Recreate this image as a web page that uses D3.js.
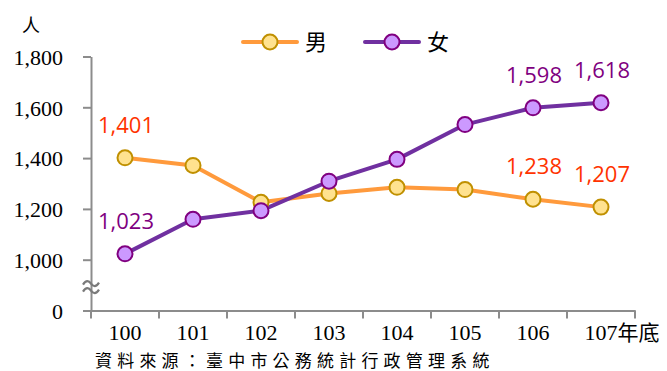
<!DOCTYPE html>
<html><head><meta charset="utf-8">
<script src="https://cdn.jsdelivr.net/npm/d3@7"></script>
<style>
html,body{margin:0;padding:0;background:#fff;}
svg{display:block;}
</style></head>
<body>
<svg id="chart" width="667" height="371"></svg>
<script>
const years = ["100","101","102","103","104","105","106","107"];
const lastSuffix = "年底";
const male = [1401, 1371, 1226, 1261, 1285, 1276, 1238, 1207];
const female = [1023, 1159, 1193, 1309, 1395, 1532, 1598, 1618];
const maleLabelIdx = [0, 6, 7];
const femaleLabelIdx = [0, 6, 7];
const yTicks = [800, 1000, 1200, 1400, 1600, 1800];
const seriesNames = ["男", "女"];
const unitLabel = "人";
const sourceText = "資料來源：臺中市公務統計行政管理系統";

const svg = d3.select("#chart");
const x = d3.scaleBand().domain(years).range([91, 635]).padding(0);
const y = d3.scaleLinear().domain([800, 1800]).range([310.5, 56.5]);
const axisColor = "#8c8c8c";
const serif = "'Liberation Serif','DejaVu Serif',serif";
const cjk = "'Noto Sans CJK TC','Noto Sans CJK SC',sans-serif";

// Y axis
const yAxis = d3.axisLeft(y).tickValues(yTicks)
  .tickFormat(d => d === 800 ? "0" : d3.format(",")(d))
  .tickSize(8).tickSizeOuter(0).tickPadding(20);
const gy = svg.append("g").attr("transform", "translate(91,0)").call(yAxis);
gy.select(".domain").attr("stroke", axisColor).attr("stroke-width", 2);
gy.selectAll(".tick line").attr("stroke", axisColor).attr("stroke-width", 2);
gy.selectAll(".tick text").attr("font-family", serif).attr("font-size", 22).attr("fill", "#000").attr("dy", "0.35em");

// break symbol
const brk = svg.append("g").attr("fill", "none").attr("stroke", "#7a7a7a").attr("stroke-width", 2.2);
[-3.5, 3.5].forEach(o => {
  const cy = (y(800) + y(1000)) / 2 + 2 + o;
  brk.append("path").attr("d", `M83,${cy+1} C86,${cy-4} 89,${cy-3} 91,${cy} S96,${cy+4} 99,${cy-1}`);
});

// X axis
const xAxis = d3.axisBottom(x).tickSize(0).tickSizeOuter(0).tickPadding(14).tickFormat(d => d);
const gx = svg.append("g").attr("transform", `translate(0,${y(800)})`).call(xAxis);
gx.select(".domain").attr("stroke", axisColor).attr("stroke-width", 2);
gx.selectAll(".tick text").attr("font-family", serif).attr("font-size", 22).attr("fill", "#000").attr("dy", "0.71em");
const bounds = years.map(d => x(d)).concat([x(years[years.length-1]) + x.bandwidth()]);
gx.selectAll(".btick").data(bounds).join("line").attr("class", "btick")
  .attr("x1", d => d).attr("x2", d => d).attr("y1", 0).attr("y2", 8)
  .attr("stroke", axisColor).attr("stroke-width", 2);
gx.selectAll(".tick text").filter(d => d === years[years.length-1]).each(function() {
  const t = d3.select(this);
  const w = this.getComputedTextLength();
  const cx = +(t.attr("x") || 0);
  t.attr("text-anchor", "start").attr("x", cx - w / 2);
  t.append("tspan").attr("font-family", cjk).attr("font-size", 21).text(lastSuffix);
});

// lines
const line = d3.line().x((d, i) => x(years[i]) + x.bandwidth() / 2).y(d => y(d));
const styles = [
  {data: male, line: "#ff9a3c", fill: "#ffe28f", stroke: "#c09000", label: "#ff3300", idx: maleLabelIdx},
  {data: female, line: "#7030a0", fill: "#cc99ff", stroke: "#800080", label: "#7f007f", idx: femaleLabelIdx}
];
styles.forEach(s => {
  svg.append("path").datum(s.data).attr("d", line).attr("fill", "none")
    .attr("stroke", s.line).attr("stroke-width", 4).attr("stroke-linejoin", "round");
});
styles.forEach(s => {
  svg.append("g").selectAll("circle").data(s.data).join("circle")
    .attr("cx", (d, i) => x(years[i]) + x.bandwidth() / 2).attr("cy", d => y(d)).attr("r", 7.5)
    .attr("fill", s.fill).attr("stroke", s.stroke).attr("stroke-width", 2);
});
styles.forEach(s => {
  svg.append("g").selectAll("text").data(s.idx).join("text")
    .attr("x", i => x(years[i]) + x.bandwidth() / 2 + 1).attr("y", i => y(s.data[i]) - 25)
    .attr("text-anchor", "middle").attr("font-family", "'Open Sans',sans-serif").attr("font-size", 22)
    .attr("fill", s.label).text(i => d3.format(",")(s.data[i]));
});

// legend
const leg = svg.append("g");
[[243, 0], [365, 1]].forEach(([lx, k]) => {
  const s = styles[k];
  leg.append("line").attr("x1", lx).attr("x2", lx + 54).attr("y1", 42).attr("y2", 42)
    .attr("stroke", s.line).attr("stroke-width", 4).attr("stroke-linecap", "round");
  leg.append("circle").attr("cx", lx + 27).attr("cy", 42).attr("r", 7.5)
    .attr("fill", s.fill).attr("stroke", s.stroke).attr("stroke-width", 2);
  leg.append("text").attr("x", lx + 62).attr("y", 42).attr("dy", "0.36em")
    .attr("font-family", cjk).attr("font-size", 22).attr("fill", "#000").text(seriesNames[k]);
});

// unit
svg.append("text").attr("x", 31).attr("y", 26).attr("dy", "0.36em").attr("text-anchor", "middle")
  .attr("font-family", cjk).attr("font-size", 18).attr("fill", "#000").text(unitLabel);

// source
svg.append("text").attr("x", 95).attr("y", 367).attr("font-family", cjk).attr("font-size", 17)
  .attr("letter-spacing", 5.2).attr("fill", "#000").text(sourceText);
</script>
</body></html>
